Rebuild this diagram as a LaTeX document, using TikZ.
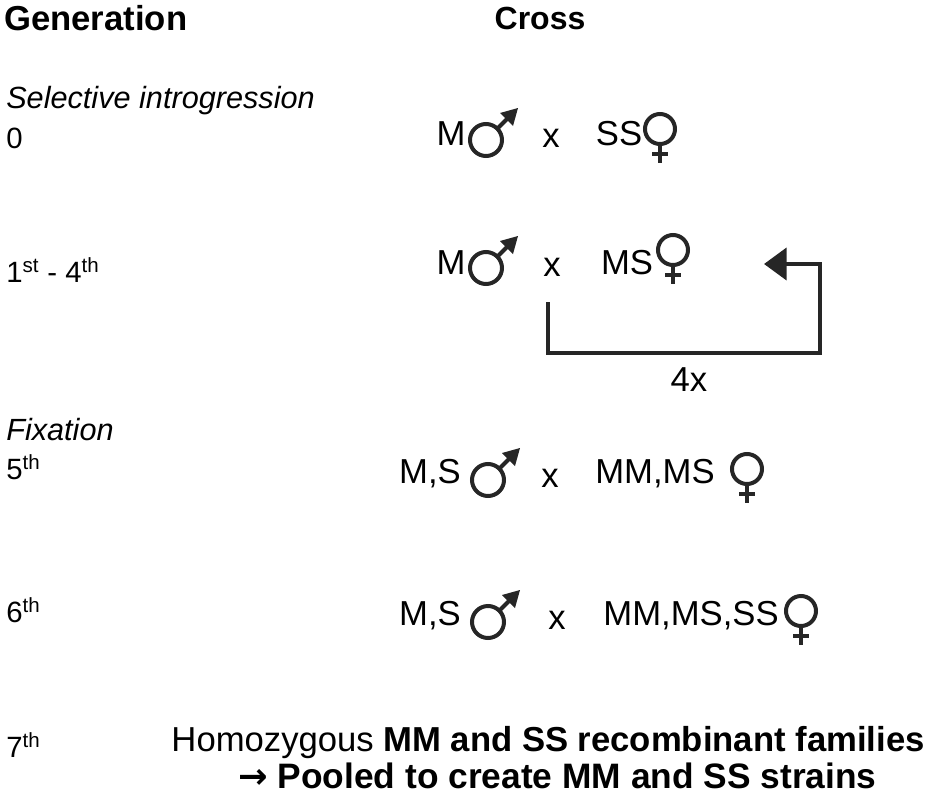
\documentclass[tikz,border=0pt]{standalone}
\usepackage{fontspec}
\setmainfont{Liberation Sans}
\usetikzlibrary{arrows.meta}
\begin{document}
\begin{tikzpicture}[x=0.75pt,y=-0.75pt,
  txt/.style={inner sep=0pt,font=\fontsize{26}{30}\selectfont},
  lab/.style={inner sep=0pt,anchor=west,font=\fontsize{22}{26}\selectfont},
  sym/.style={line width=3pt,color=black!85}]
\useasboundingbox (0,0) rectangle (929,800);
\newcommand{\malesym}[2]{%
  \draw[sym] (#1,#2) circle (16);
  \draw[sym] (#1+11,#2-11) -- (#1+25,#2-25);
  \fill[black!85] (#1+32,#2-32) -- (#1+14,#2-27) -- (#1+27,#2-14) -- cycle;}
\newcommand{\femalesym}[2]{%
  \draw[sym] (#1,#2) circle (15);
  \draw[sym] (#1,#2+15) -- (#1,#2+34);
  \draw[sym] (#1-8,#2+25) -- (#1+8,#2+25);}
% headers
\node[lab,font=\bfseries\fontsize{26}{30}\selectfont] (g) at (4,18) {Generation};
\node[txt,font=\bfseries\fontsize{24}{28}\selectfont] (c) at (540,18) {Cross};
\node[lab,font=\itshape\fontsize{23}{27}\selectfont] (si) at (6,101) {Selective introgression};
\node[lab] (l0) at (6,138) {0};
\node[lab] (l1) at (6,270) {1\textsuperscript{st} - 4\textsuperscript{th}};
\node[lab,font=\itshape\fontsize{23}{27}\selectfont] (fx) at (6,430) {Fixation};
\node[lab] (l5) at (6,467) {5\textsuperscript{th}};
\node[lab] (l6) at (6,610) {6\textsuperscript{th}};
\node[lab] (l7) at (6,745) {7\textsuperscript{th}};
% row 0
\node[txt] (m0) at (451,134) {M};
\malesym{486}{140}
\node[txt] (x0) at (551,138) {x};
\node[txt] (s0) at (619,134) {SS};
\femalesym{660}{129}
% row 1
\node[txt] (m1) at (451,263) {M};
\malesym{486}{268}
\node[txt] (x1) at (552,267) {x};
\node[txt] (s1) at (627,263) {MS};
\femalesym{673}{250}
\coordinate (a0) at (548,302);
\coordinate (a1) at (548,353);
\coordinate (a2) at (820,353);
\coordinate (a3) at (820,264);
\coordinate (a4) at (764,264);
\draw[line width=3.2pt,black!85,-{Triangle[length=17pt,width=24pt]}] (a0) -- (a1) -- (a2) -- (a3) -- (a4);
\node[txt] (fx4) at (689,380) {4x};
% row 5
\node[txt] (m5) at (430,474) {M,S};
\malesym{488}{480}
\node[txt] (x5) at (550,478) {x};
\node[txt] (s5) at (655,474) {MM,MS};
\femalesym{747}{469}
% row 6
\node[txt] (m6) at (430,616) {M,S};
\malesym{488}{622}
\node[txt] (x6) at (557,620) {x};
\node[txt] (s6) at (691,616) {MM,MS,SS};
\femalesym{801}{611}
% row 7
\node[txt,anchor=east,font=\fontsize{26}{30}\selectfont] (h1) at (925,743) {Homozygous \textbf{MM and SS recombinant families}};
\node[txt,anchor=west,font=\bfseries\fontsize{26.5}{30}\selectfont] (h2) at (238,776) {{\fontspec{DejaVu Sans}\bfseries→} Pooled to create MM and SS strains};
\end{tikzpicture}
\end{document}
